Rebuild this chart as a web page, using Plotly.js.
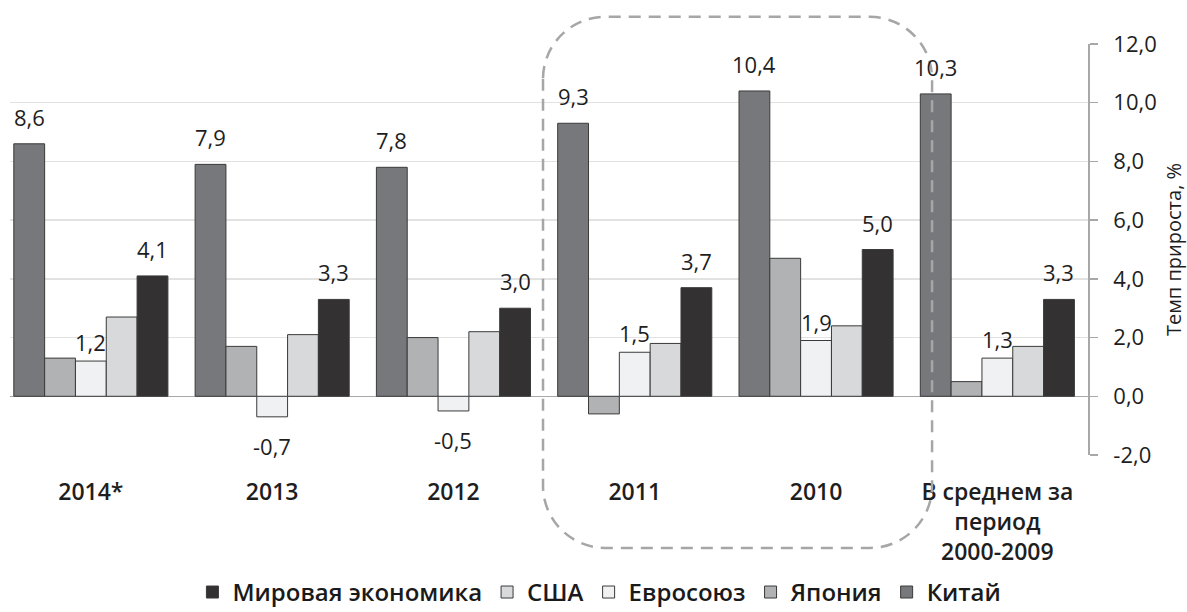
<!DOCTYPE html>
<html>
<head>
<meta charset="utf-8">
<script src="https://cdn.plot.ly/plotly-3.0.1.min.js"></script>
<style>html,body{margin:0;padding:0;background:#fff;}#chart{width:1187px;height:612px;}</style>
</head>
<body>
<div id="chart"></div>
<script>
const categories = ['2014*', '2013', '2012', '2011', '2010', 'В среднем за<br>период<br>2000-2009'];
const seriesNames = ['Китай', 'Япония', 'Евросоюз', 'США', 'Мировая экономика'];
const china = [8.6, 7.9, 7.8, 9.3, 10.4, 10.3];
const japan = [1.3, 1.7, 2.0, -0.6, 4.7, 0.5];
const eu = [1.2, -0.7, -0.5, 1.5, 1.9, 1.3];
const usa = [2.7, 2.1, 2.2, 1.8, 2.4, 1.7];
const world = [4.1, 3.3, 3.0, 3.7, 5.0, 3.3];
const yTicks = [-2, 0, 2, 4, 6, 8, 10, 12];

const values = [china, japan, eu, usa, world];
const colors = ['#77787b', '#b1b2b4', '#f0f1f2', '#d8d9da', '#333132'];
const labelled = [true, false, true, false, true];
const FONT = '"Open Sans", "Noto Sans", sans-serif';
const BARGAP = 0.15;
const nS = values.length;
const barW = (1 - BARGAP) / nS;

const traces = values.map((v, s) => ({
  type: 'bar',
  name: seriesNames[s],
  x: categories,
  y: v,
  marker: {color: colors[s], line: {color: '#3a3a3a', width: 1}},
  hoverinfo: 'skip'
}));

const fmt = v => v.toFixed(1).replace('.', ',');
const annotations = [];
values.forEach((v, s) => {
  if (!labelled[s]) return;
  v.forEach((val, i) => {
    const isEU = s === 2;
    annotations.push({
      x: i + (s - (nS - 1) / 2) * barW,
      y: val,
      xref: 'x', yref: 'y',
      text: fmt(val),
      showarrow: false,
      xanchor: 'center',
      yanchor: val >= 0 ? 'bottom' : 'top',
      yshift: val >= 0 ? (isEU ? 2 : 10) : -12,
      font: {family: FONT, size: 22, color: '#1e1e1e'}
    });
  });
});

// dashed rounded frame around 2011 and 2010 groups
const fx0 = 2.494, fx1 = 4.64, fy0 = -0.226, fy1 = 1.066;
const rx = 62 / 181.3, ry = 62 / 411, k = 0.45;
const framePath = [
  `M${fx0},${fy1 - ry}`,
  `L${fx0},${fy0 + ry}`,
  `C${fx0},${fy0 + ry * k} ${fx0 + rx * k},${fy0} ${fx0 + rx},${fy0}`,
  `L${fx1 - rx},${fy0}`,
  `C${fx1 - rx * k},${fy0} ${fx1},${fy0 + ry * k} ${fx1},${fy0 + ry}`,
  `L${fx1},${fy1 - ry}`,
  `C${fx1},${fy1 - ry * k} ${fx1 - rx * k},${fy1} ${fx1 - rx},${fy1}`,
  `L${fx0 + rx},${fy1}`,
  `C${fx0 + rx * k},${fy1} ${fx0},${fy1 - ry * k} ${fx0},${fy1 - ry}`,
  'Z'
].join(' ');

const layout = {
  width: 1187, height: 612,
  margin: {l: 10, r: 99, t: 44, b: 157},
  paper_bgcolor: '#ffffff', plot_bgcolor: '#ffffff',
  font: {family: FONT, color: '#1e1e1e'},
  separators: ', ',
  barmode: 'group',
  bargap: BARGAP,
  bargroupgap: 0,
  showlegend: true,
  legend: {
    orientation: 'h', traceorder: 'reversed',
    xref: 'container', yref: 'container',
    x: 0.505, xanchor: 'center', y: 0.032, yanchor: 'middle',
    font: {family: FONT, size: 24, color: '#1a1a1a', weight: 600},
    itemwidth: 30
  },
  xaxis: {
    type: 'category',
    range: [-0.446, 5.5],
    showgrid: false, zeroline: false, showline: false,
    ticks: '',
    tickfont: {family: FONT, size: 23, color: '#1e1e1e', weight: 600},
    ticklabelstandoff: 21,
    fixedrange: true
  },
  yaxis: {
    side: 'right',
    range: [-2, 12],
    tickvals: yTicks,
    ticktext: yTicks.map(v => '\u00A0\u00A0' + fmt(v)),
    showgrid: true, gridcolor: '#e2e2e2', gridwidth: 1.5,
    zeroline: true, zerolinecolor: '#a8a8a8', zerolinewidth: 1.5,
    showline: true, linecolor: '#a8a8a8', linewidth: 1.5,
    ticks: 'outside', ticklen: 8, tickcolor: '#a8a8a8', tickwidth: 1.5,
    tickfont: {family: FONT, size: 22, color: '#1e1e1e'},
    title: {text: 'Темп прироста, %', font: {family: FONT, size: 20, color: '#1e1e1e'}, standoff: 14},
    fixedrange: true
  },
  annotations: annotations,
  shapes: [{
    type: 'path', xref: 'x', yref: 'paper', layer: 'above',
    path: framePath,
    line: {color: '#a6a6a6', width: 2.5, dash: '12px,8px'}
  }]
};

Plotly.newPlot('chart', traces, layout, {staticPlot: true, displayModeBar: false});
</script>
</body>
</html>
